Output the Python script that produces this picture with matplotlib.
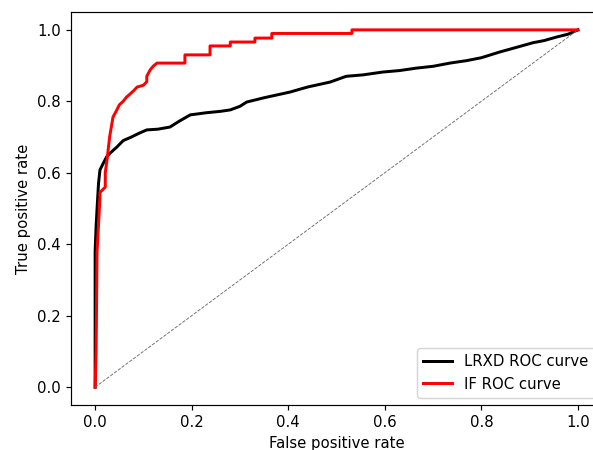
import matplotlib
matplotlib.use('Agg')
import matplotlib.pyplot as plt

# ROC points
lrxd_fpr = [0.0, 0.0, 0.0, 0.002, 0.004, 0.007, 0.010, 0.017, 0.024, 0.031, 0.045, 0.058,
            0.075, 0.090, 0.107, 0.130, 0.155, 0.175, 0.197, 0.230, 0.260, 0.280,
            0.300, 0.314, 0.350, 0.404, 0.440, 0.487, 0.520, 0.555, 0.596,
            0.630, 0.666, 0.700, 0.735, 0.770, 0.800, 0.838, 0.870, 0.907, 0.930,
            0.956, 0.980, 1.0]
lrxd_tpr = [0.0, 0.10, 0.38, 0.45, 0.50, 0.57, 0.608, 0.627, 0.645, 0.655, 0.672, 0.690,
            0.700, 0.710, 0.720, 0.722, 0.728, 0.745, 0.762, 0.768, 0.772, 0.776,
            0.786, 0.798, 0.810, 0.826, 0.840, 0.854, 0.870, 0.874, 0.882,
            0.886, 0.893, 0.898, 0.907, 0.914, 0.922, 0.938, 0.950, 0.964, 0.970,
            0.980, 0.988, 1.0]

if_fpr = [0.0, 0.002, 0.004, 0.010, 0.010, 0.021, 0.021, 0.025, 0.030, 0.037, 0.045,
          0.050, 0.058, 0.065, 0.072, 0.080, 0.087, 0.100, 0.107, 0.107, 0.114,
          0.120, 0.128, 0.186, 0.186, 0.238, 0.238, 0.280, 0.280, 0.331, 0.331,
          0.366, 0.366, 0.532, 0.532, 1.0]
if_tpr = [0.0, 0.10, 0.38, 0.53, 0.545, 0.56, 0.60, 0.64, 0.70, 0.756, 0.776,
          0.790, 0.80, 0.812, 0.82, 0.83, 0.84, 0.845, 0.855, 0.870, 0.888,
          0.898, 0.907, 0.907, 0.930, 0.930, 0.955, 0.955, 0.966, 0.966, 0.977,
          0.977, 0.990, 0.990, 1.0, 1.0]

dpi = 107
fig = plt.figure(figsize=(593 / dpi, 450 / dpi), dpi=dpi)
ax = fig.add_axes([71 / 593, 45 / 450, 531 / 593, 393 / 450])

ax.plot(lrxd_fpr, lrxd_tpr, color='black', lw=2, label='LRXD ROC curve')
ax.plot(if_fpr, if_tpr, color='red', lw=2, label='IF ROC curve')
ax.plot([0, 1], [0, 1], color='dimgray', lw=0.6, linestyle='--')

ax.set_xlim(-0.05, 1.05)
ax.set_ylim(-0.05, 1.05)
ax.set_xticks([0.0, 0.2, 0.4, 0.6, 0.8, 1.0])
ax.set_yticks([0.0, 0.2, 0.4, 0.6, 0.8, 1.0])
ax.spines['right'].set_visible(False)  # cropped off in the original
ax.set_xlabel('False positive rate')
ax.set_ylabel('True positive rate')
ax.legend(loc='lower right')

fig.savefig('out.png', dpi=dpi)
